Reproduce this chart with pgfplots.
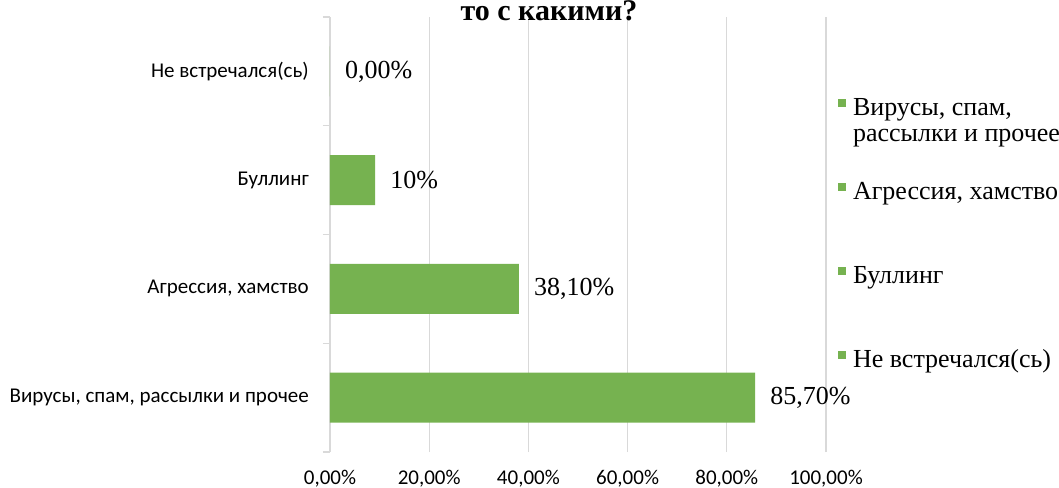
\documentclass[border=0pt]{standalone}
\usepackage{fontspec}
\setmainfont{Liberation Serif}
\newfontfamily\calibri{Carlito}
\usepackage{pgfplots}
\pgfplotsset{compat=1.18}
\definecolor{barcol}{RGB}{118,178,80}
\definecolor{gridcol}{RGB}{217,217,217}
% legend square; the invisible path fixes the row pitch (84bp)
\pgfplotsset{barimg/.style={legend image code/.code={%
  \fill[barcol, draw=none] (0bp,9bp) rectangle (8bp,17bp);
  \path[draw=none, fill=none] (0bp,-64bp) rectangle (15bp,20bp);}}}

\begin{document}
\begin{tikzpicture}
\begin{axis}[
  name=ax,
  at={(0,0)}, anchor=south west,
  scale only axis,
  width=496bp, height=435bp,
  xbar, bar width=50bp, bar shift=0pt,
  xmin=0, xmax=100,
  ymin=-0.5, ymax=3.5,
  xtick={0,20,40,60,80,100},
  xticklabels={{0,00\%},{20,00\%},{40,00\%},{60,00\%},{80,00\%},{100,00\%}},
  ytick={0,1,2,3},
  yticklabels={{Вирусы, спам, рассылки и прочее},{Агрессия, хамство},{Буллинг},{Не встречался(сь)}},
  minor ytick={-0.5,0.5,1.5,2.5,3.5},
  major tick length=0pt, minor tick length=7bp,
  tick align=outside, ytick pos=left, xtick pos=bottom,
  tick style={gridcol, line width=1.2bp},
  xmajorgrids, major grid style={gridcol, line width=1.2bp},
  axis lines*=left, axis line style={-},
  x axis line style={draw=none},
  y axis line style={gridcol, line width=1.2bp},
  ticklabel style={font=\calibri\fontsize{21bp}{24bp}\selectfont, inner sep=0pt},
  xticklabel style={yshift=-18bp},
  yticklabel style={xshift=-21bp},
  point meta=explicit symbolic,
  nodes near coords,
  every node near coord/.append style={font=\fontsize{26bp}{26bp}\selectfont,
    inner sep=0pt, anchor=west, xshift=15bp, black},
  legend style={at={(1.0242,0.8184)}, anchor=north west, draw=none, fill=none,
    inner sep=0pt, outer sep=0pt, nodes={inner sep=0pt}, cells={anchor=base west},
    font=\fontsize{26bp}{26bp}\selectfont, row sep=0pt},
]
\addplot[fill=barcol, draw=none, forget plot] coordinates {
  (85.7,0) [85,70\%]
  (38.1,1) [38,10\%]
  (9.1,2) [10\%]
  (0,3) [0,00\%]
};
\addlegendimage{barimg}
\addlegendentry{\parbox[t]{260bp}{Вирусы, спам,\\рассылки и прочее}}
\addlegendimage{barimg}
\addlegendentry{Агрессия, хамство}
\addlegendimage{barimg}
\addlegendentry{Буллинг}
\addlegendimage{barimg}
\addlegendentry{Не встречался(сь)}
\end{axis}
\node[anchor=base, font=\bfseries\fontsize{30bp}{32bp}\selectfont] at ([shift={(219bp,431bp)}]ax.south west) {то с какими?};
\pgfresetboundingbox
\path[use as bounding box] ([shift={(-330bp,-36bp)}]ax.south west) rectangle ([shift={(729bp,452bp)}]ax.south west);
\end{tikzpicture}
\end{document}
